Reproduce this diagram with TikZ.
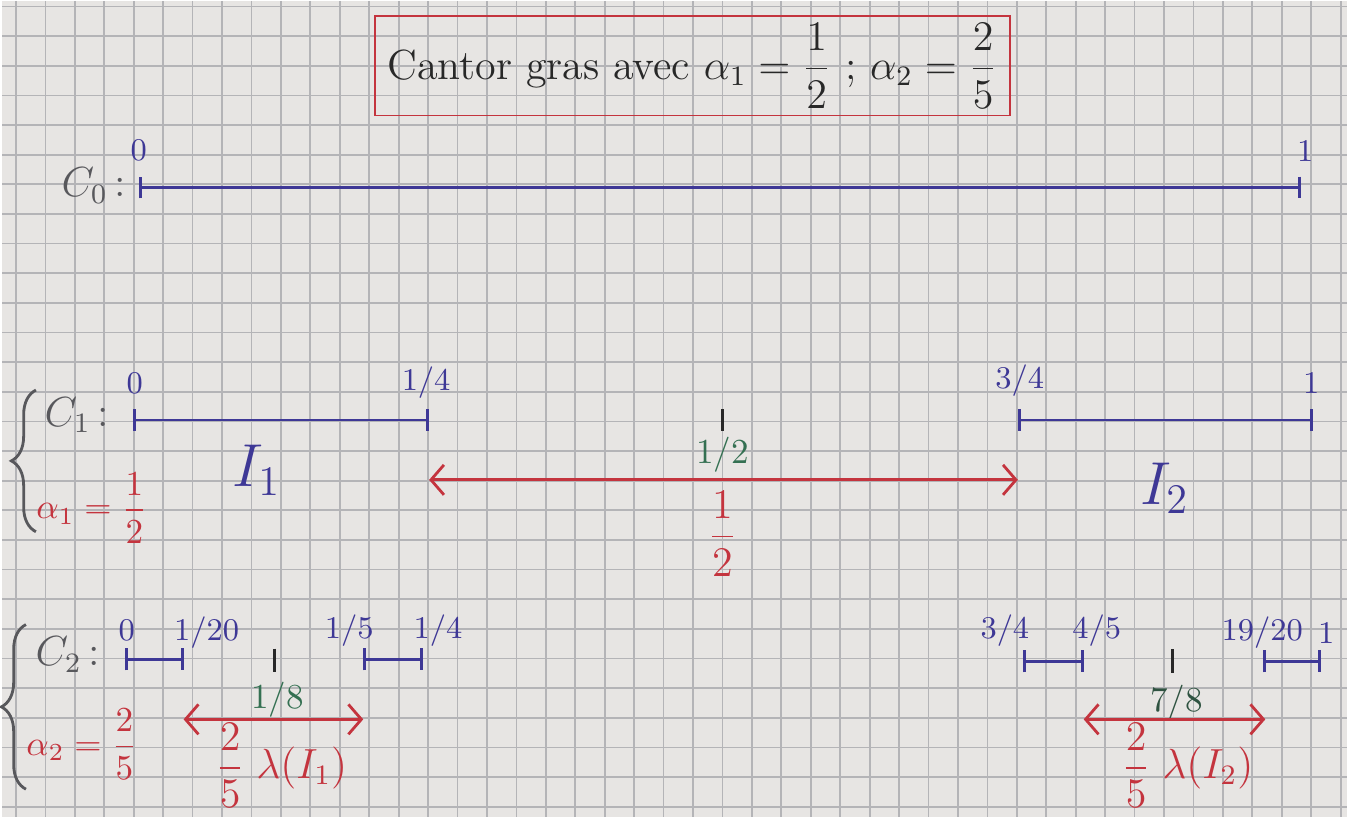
\documentclass[tikz,border=0pt]{standalone}
\usepackage{amsmath}
\usetikzlibrary{arrows.meta,decorations.pathreplacing}
\definecolor{paper}{RGB}{231,229,227}
\definecolor{gridc}{RGB}{180,180,183}
\definecolor{inkblue}{RGB}{62,56,150}
\definecolor{inkred}{RGB}{196,52,62}
\definecolor{inkgreen}{RGB}{52,112,82}
\definecolor{inkgrey}{RGB}{88,88,92}
\definecolor{inkdark}{RGB}{40,40,40}
\begin{document}
\begin{tikzpicture}[x=0.01cm, y=-0.01cm,
    seg/.style={inkblue, thick, {Bar[width=2.2mm]}-{Bar[width=2.2mm]}},
    gap/.style={inkred, thick, {Straight Barb[length=1.3mm,width=3mm]}-{Straight Barb[length=1.3mm,width=3mm]}},
    mid/.style={inkdark, thick},
    lbl/.style={inkblue, font=\small, inner sep=1pt},
    midlbl/.style={inkgreen, font=\normalsize, inner sep=1pt},
    cname/.style={inkgrey, font=\large, inner sep=1pt},
    alpha/.style={inkred, font=\normalsize, inner sep=1pt},
    iname/.style={inkblue, font=\LARGE, inner sep=1pt},
    meas/.style={inkred, font=\large, inner sep=1pt},
    brc/.style={inkgrey, thick, decorate, decoration={brace, amplitude=7pt}}]

    % paper
    \fill[paper] (0,0) rectangle (1348,818);
    \foreach \gx in {0,...,45}
        \draw[gridc, line width=0.5pt] ({14+29.5*\gx},0) -- ({14+29.5*\gx},818);
    \foreach \gy in {0,...,27}
        \draw[gridc, line width=0.5pt] (0,{5.6+29.7*\gy}) -- (1348,{5.6+29.7*\gy});

    % title
    \node[draw=inkred, minimum width=6.36cm, minimum height=1cm, inner sep=1pt, text=inkdark, font=\large] (title) at (692,65)
        {Cantor gras avec $\alpha_1 = \dfrac{1}{2}$ ; $\alpha_2 = \dfrac{2}{5}$};

    % C0
    \coordinate (c0a) at (137,187);
    \coordinate (c0b) at (1302,187);
    \draw[seg] (c0a) -- (c0b);
    \node[lbl] (c0n0) at (137,150) {0};
    \node[lbl] (c0n1) at (1306,150) {1};
    \node[cname] (c0) at (92,185) {$C_0$\,:};

    % C1
    \coordinate (c1a) at (131,420);
    \coordinate (c1b) at (428,420);
    \coordinate (c1c) at (1018,420);
    \coordinate (c1d) at (1314,420);
    \coordinate (h1) at (722,420);
    \draw[seg] (c1a) -- (c1b);
    \draw[seg] (c1c) -- (c1d);
    \draw[mid] (h1) ++(0,-11) -- ++(0,22);
    \node[lbl] (c1n0) at (133,383) {0};
    \node[lbl] (c1n1) at (425,383) {1/4};
    \node[lbl] (c1n2) at (1020,381) {3/4};
    \node[lbl] (c1n3) at (1312,383) {1};
    \node[midlbl] (h1l) at (722,455) {1/2};

    % gap of C1
    \coordinate (g1a) at (428,480);
    \coordinate (g1b) at (1018,480);
    \draw[gap] (g1a) -- (g1b);
    \node[meas] (g1l) at (722,534) {$\dfrac{1}{2}$};

    % intervals
    \node[iname] (i1) at (255,470) {$I_1$};
    \node[iname] (i2) at (1165,488) {$I_2$};

    % left side of C1
    \node[cname] (c1) at (75,415) {$C_1$\,:};
    \node[alpha] (a1) at (90,508) {$\alpha_1 = \dfrac{1}{2}$};
    \coordinate (b1a) at (34,532);
    \coordinate (b1b) at (34,390);
    \draw[brc] (b1a) -- (b1b);

    % C2
    \coordinate (c2a) at (123,660);
    \coordinate (c2b) at (182,660);
    \coordinate (c2c) at (362,660);
    \coordinate (c2d) at (422,660);
    \coordinate (c2e) at (1023,662);
    \coordinate (c2f) at (1084,662);
    \coordinate (c2g) at (1264,662);
    \coordinate (c2h) at (1322,662);
    \coordinate (h2) at (273,661);
    \coordinate (h3) at (1173,662);
    \draw[seg] (c2a) -- (c2b);
    \draw[seg] (c2c) -- (c2d);
    \draw[seg] (c2e) -- (c2f);
    \draw[seg] (c2g) -- (c2h);
    \draw[mid] (h2) ++(0,-12) -- ++(0,24);
    \draw[mid] (h3) ++(0,-12) -- ++(0,24);
    \node[lbl] (c2n0) at (125,631) {0};
    \node[lbl] (c2n1) at (205,633) {1/20};
    \node[lbl] (c2n2) at (348,631) {1/5};
    \node[lbl] (c2n3) at (437,631) {1/4};
    \node[lbl] (c2n4) at (1005,631) {3/4};
    \node[lbl] (c2n5) at (1097,631) {4/5};
    \node[lbl] (c2n6) at (1263,633) {19/20};
    \node[lbl] (c2n7) at (1327,633) {1};
    \node[midlbl] (h2l) at (276,700) {1/8};
    \node[midlbl, text=inkgreen!60!inkdark] (h3l) at (1177,703) {7/8};

    % gaps of C2
    \coordinate (g2a) at (182,720);
    \coordinate (g2b) at (362,720);
    \coordinate (g3a) at (1084,720);
    \coordinate (g3b) at (1266,720);
    \draw[gap] (g2a) -- (g2b);
    \draw[gap] (g3a) -- (g3b);
    \node[meas] (g2l) at (280,766) {$\dfrac{2}{5}\;\lambda(I_1)$};
    \node[meas] (g3l) at (1188,766) {$\dfrac{2}{5}\;\lambda(I_2)$};

    % left side of C2
    \node[cname] (c2) at (66,655) {$C_2$\,:};
    \node[alpha] (a2) at (80,745) {$\alpha_2 = \dfrac{2}{5}$};
    \coordinate (b2a) at (24,790);
    \coordinate (b2b) at (24,625);
    \draw[brc] (b2a) -- (b2b);
\end{tikzpicture}
\end{document}
